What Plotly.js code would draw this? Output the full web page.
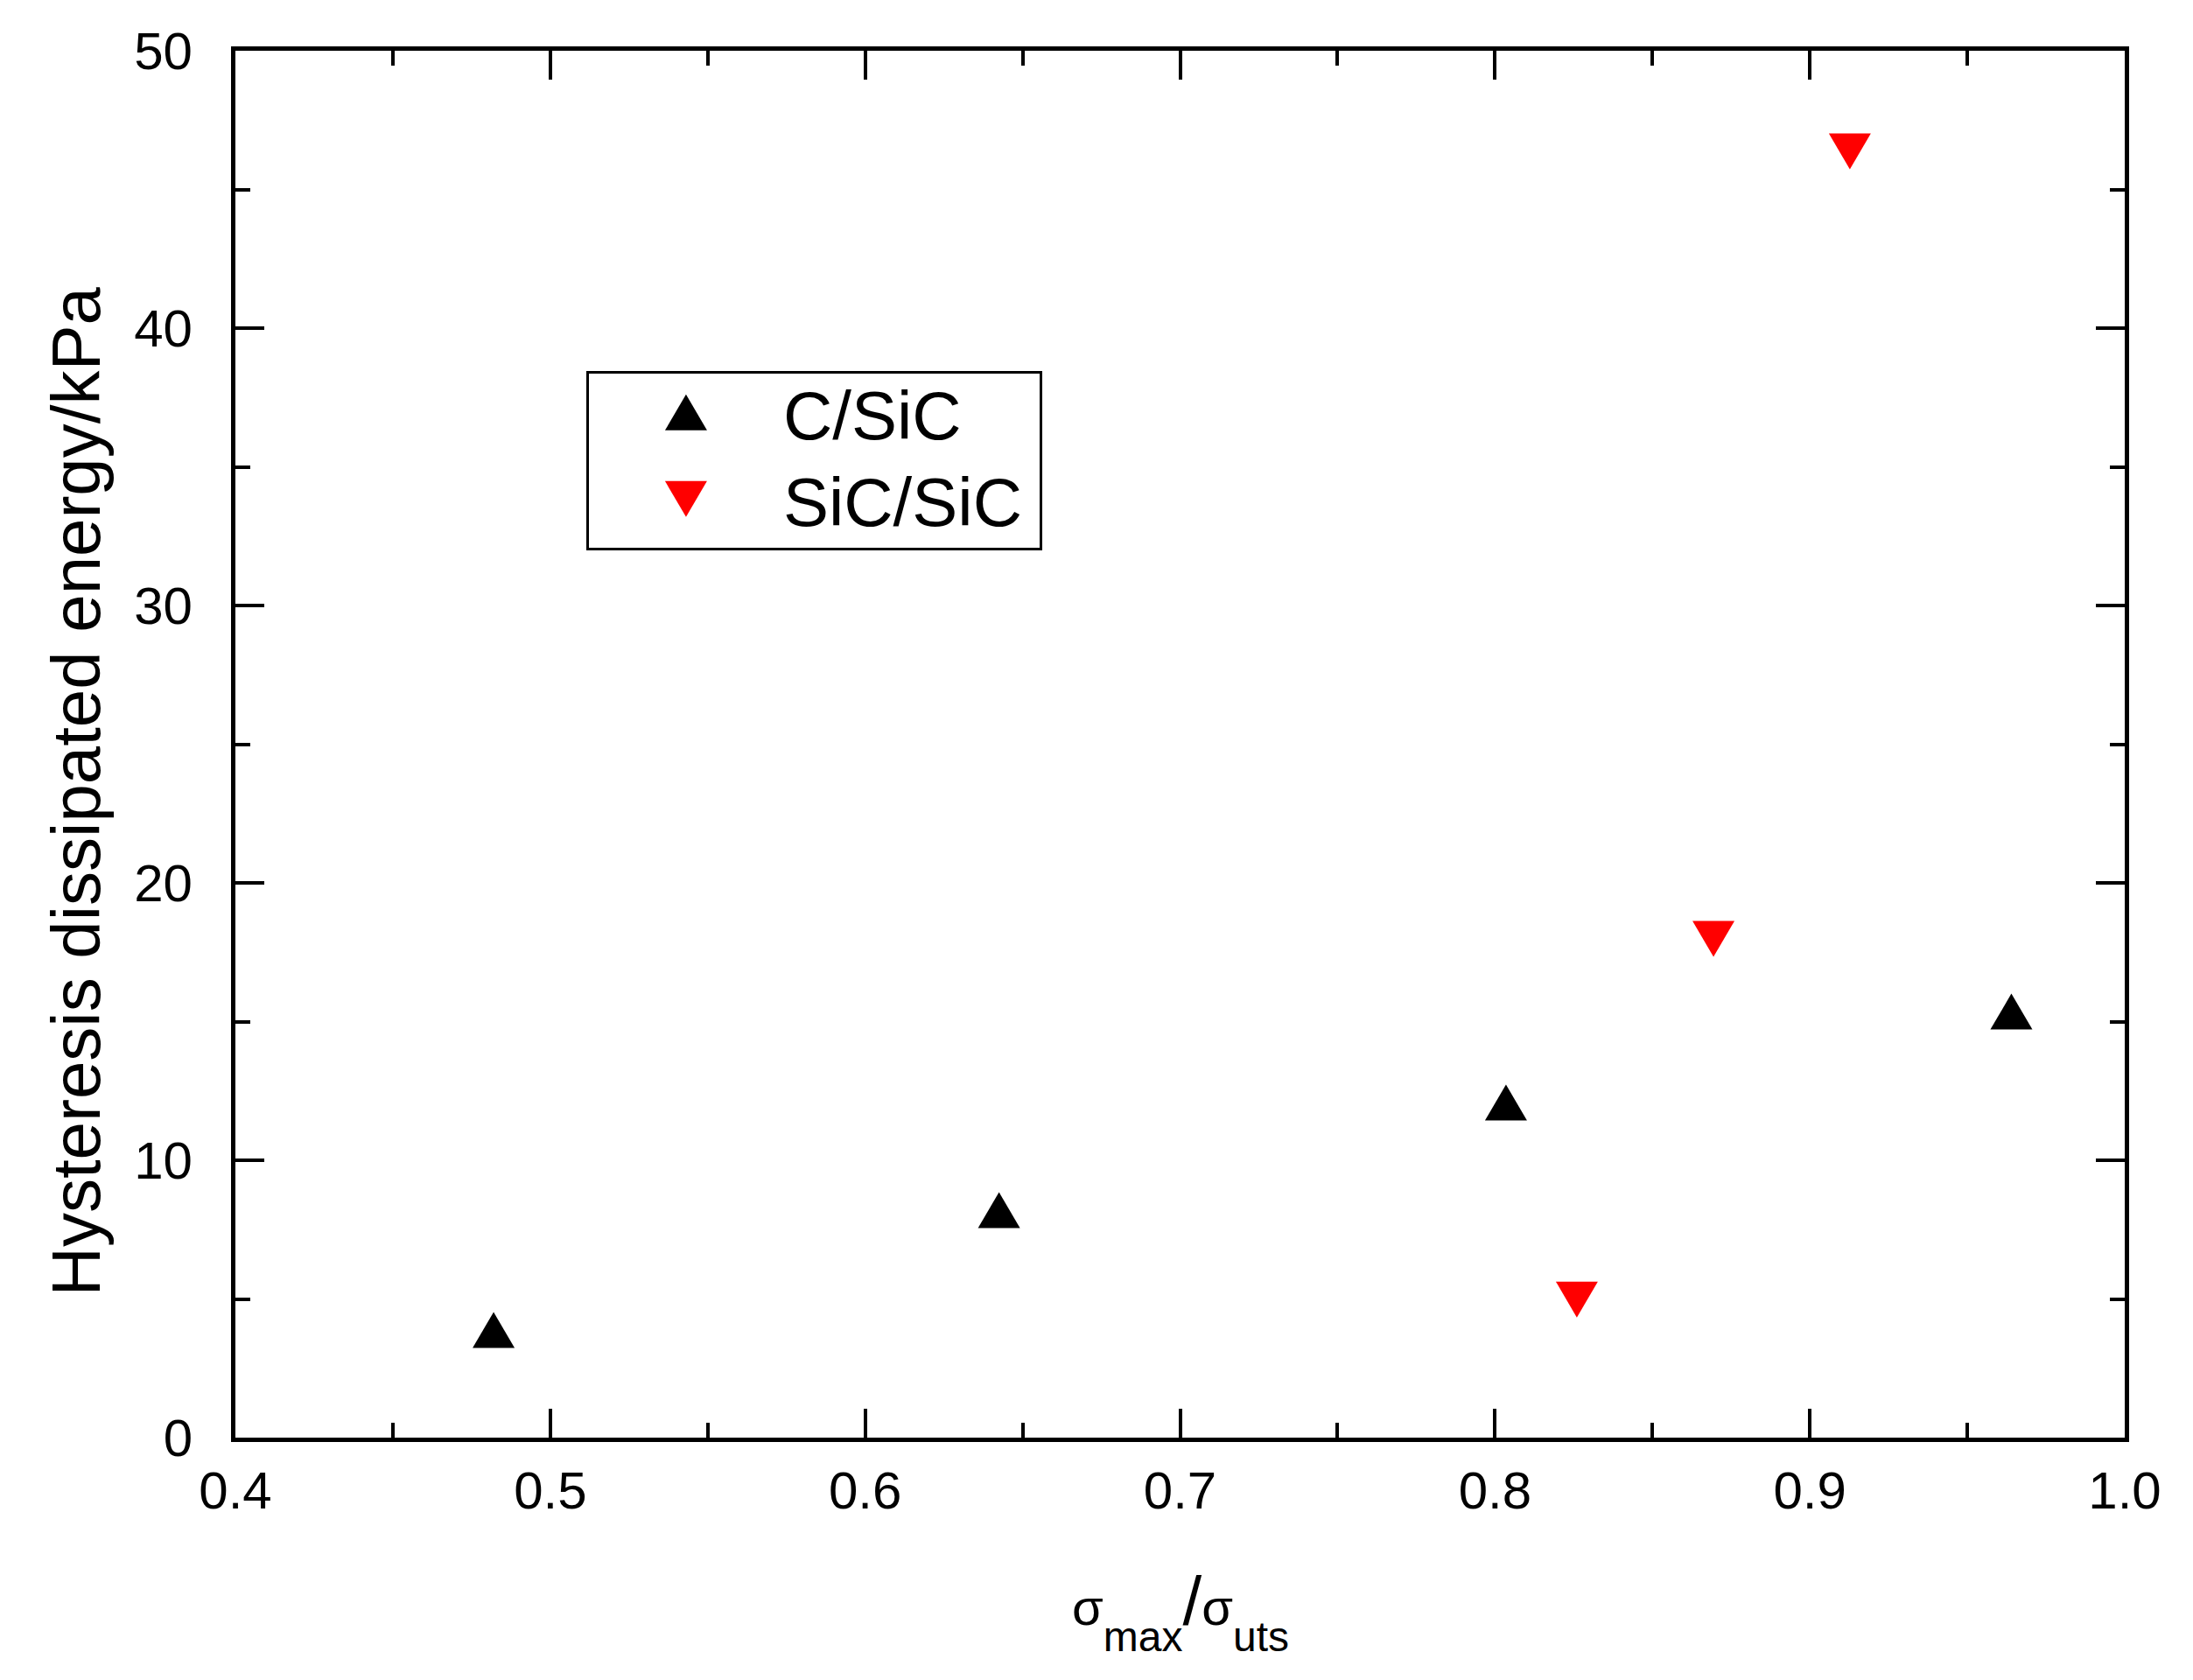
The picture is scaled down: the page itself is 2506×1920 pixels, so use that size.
<!DOCTYPE html>
<html>
<head>
<meta charset="utf-8">
<script src="https://cdn.plot.ly/plotly-3.0.1.min.js"></script>
<style>
html,body{margin:0;padding:0;background:#fff;}
#chart{width:2506px;height:1920px;}
</style>
</head>
<body>
<div id="chart"></div>
<script>
// ---- data ----
var seriesNames = ["C/SiC", "SiC/SiC"];
var cSiC_x = [0.482, 0.6425, 0.8035, 0.964];
var cSiC_y = [3.88, 8.2, 12.08, 15.36];
var sicSiC_x = [0.826, 0.8694, 0.9127];
var sicSiC_y = [4.98, 17.98, 46.37];
var xTickVals = [0.4, 0.5, 0.6, 0.7, 0.8, 0.9, 1.0];
var xTickText = ["0.4", "0.5", "0.6", "0.7", "0.8", "0.9", "1.0"];
var yTickVals = [0, 10, 20, 30, 40, 50];
var yTickText = ["0", "10", "20", "30", "40", "50"];
var yTitle = "Hysteresis dissipated energy/kPa";
var xTitle = "<span style='font-size:58px'>σ</span><span style='font-size:48px;baseline-shift:-30px'>max</span>/<span style='font-size:58px'>σ</span><span style='font-size:48px;baseline-shift:-30px'>uts</span>";

var FONT = "Liberation Sans, Arial, Helvetica, sans-serif";

var traces = [
  {
    type: "scatter", mode: "markers", name: seriesNames[0],
    x: cSiC_x, y: cSiC_y,
    marker: {symbol: "triangle-up", size: 42, color: "#000000", line: {width: 0}}
  },
  {
    type: "scatter", mode: "markers", name: seriesNames[1],
    x: sicSiC_x, y: sicSiC_y,
    marker: {symbol: "triangle-down", size: 42, color: "#ff0000", line: {width: 0}}
  }
];

function axisCommon() {
  return {
    showline: true, linecolor: "#000", linewidth: 5, mirror: "allticks",
    ticks: "inside", ticklen: 33, tickwidth: 4, tickcolor: "#000",
    showgrid: false, zeroline: false,
    tickfont: {family: FONT, size: 60, color: "#000"},
    automargin: false
  };
}

var xaxis = axisCommon();
Object.assign(xaxis, {
  range: [0.4, 1.0], tickmode: "array", tickvals: xTickVals, ticktext: xTickText,
  minor: {dtick: 0.05, tick0: 0.4, ticks: "inside", ticklen: 17, tickwidth: 4, tickcolor: "#000", showgrid: false},
  ticklabelstandoff: 4
});
var yaxis = axisCommon();
Object.assign(yaxis, {
  range: [0, 50], tickmode: "array", tickvals: yTickVals, ticktext: yTickText,
  minor: {dtick: 5, tick0: 0, ticks: "inside", ticklen: 17, tickwidth: 4, tickcolor: "#000", showgrid: false},
  ticklabelstandoff: 32
});

var layout = {
  width: 2506, height: 1920,
  margin: {l: 269, r: 78, t: 58, b: 277, pad: 0},
  paper_bgcolor: "#fff", plot_bgcolor: "#fff",
  font: {family: FONT, color: "#000"},
  xaxis: xaxis, yaxis: yaxis,
  showlegend: true,
  legend: {
    x: 0.1857, y: 0.7753, xanchor: "left", yanchor: "top",
    bgcolor: "#fff", bordercolor: "#000", borderwidth: 3,
    font: {family: FONT, size: 78, color: "#000"},
    itemwidth: 212, tracegroupgap: 0
  },
  annotations: [
    {
      xref: "paper", yref: "paper", x: -0.0843, y: 0.466,
      xanchor: "center", yanchor: "middle", textangle: -90, showarrow: false,
      text: yTitle, font: {family: FONT, size: 78, color: "#000"}
    },
    {
      xref: "paper", yref: "paper", x: 0.5, y: -0.125,
      xanchor: "center", yanchor: "middle", showarrow: false,
      text: xTitle,
      font: {family: FONT, size: 78, color: "#000"}
    }
  ]
};

var UP = "M-24,20.5H24L0,-20.5Z";
var DOWN = "M-24,-20.5H24L0,20.5Z";

function parseTranslate(el) {
  var t = el.getAttribute("transform") || "";
  var m = /translate\(\s*([-\d.]+)[ ,]+([-\d.]+)\s*\)/.exec(t);
  return m ? [parseFloat(m[1]), parseFloat(m[2])] : [0, 0];
}

Plotly.newPlot("chart", traces, layout, {displayModeBar: false, staticPlot: true}).then(function (gd) {
  var shapes = [UP, DOWN];
  gd.querySelectorAll(".scatterlayer .trace").forEach(function (t, i) {
    t.querySelectorAll("path.point").forEach(function (p) { p.setAttribute("d", shapes[i]); });
  });
  var items = gd.querySelectorAll(".legend g.traces");
  var first = null;
  items.forEach(function (t, i) {
    t.querySelectorAll("path.scatterpts").forEach(function (p) { p.setAttribute("d", shapes[i]); });
    var tr = parseTranslate(t);
    if (first === null) first = tr;
    t.setAttribute("transform", "translate(" + tr[0] + "," + (first[1] - 3 + i * 99) + ")");
  });
  // legend frame to the reference box
  var lg = gd.querySelector("g.legend");
  var bg = lg && lg.querySelector("rect.bg");
  if (bg) {
    var tr = parseTranslate(lg);
    bg.setAttribute("x", 671.5 - tr[0]);
    bg.setAttribute("y", 425.5 - tr[1]);
    bg.setAttribute("width", 518);
    bg.setAttribute("height", 202);
  }
});
</script>
</body>
</html>
